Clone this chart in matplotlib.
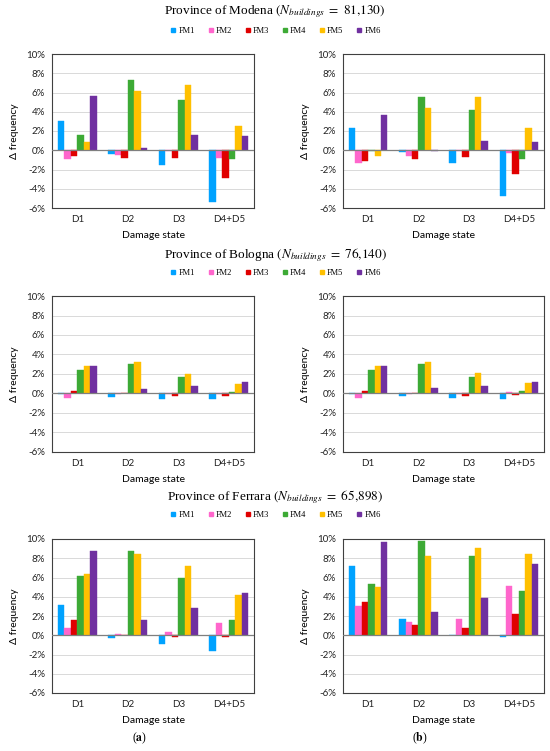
import matplotlib
matplotlib.use("Agg")
import matplotlib.pyplot as plt
import numpy as np
from matplotlib.lines import Line2D

# ---------------- data ----------------
damage_states = ["D1", "D2", "D3", "D4+D5"]
series_names = ["FM1", "FM2", "FM3", "FM4", "FM5", "FM6"]
colors = ["#00A2FF", "#FF66CC", "#E00000", "#3DAA35", "#FFC000", "#7030A0"]
yticks = [-6, -4, -2, 0, 2, 4, 6, 8, 10]

provinces = ["Modena", "Bologna", "Ferrara"]
n_buildings = ["81{,}130", "76{,}140", "65{,}898"]

# values in % ; rows = FM1..FM6, columns = D1, D2, D3, D4+D5
modena_a = [
    [3.0, -0.41, -1.5, -5.4],
    [-0.95, -0.48, -0.03, -0.83],
    [-0.62, -0.8, -0.8, -2.86],
    [1.56, 7.34, 5.19, -0.9],
    [0.83, 6.19, 6.78, 2.56],
    [5.64, 0.28, 1.63, 1.52],
]
modena_b = [
    [2.33, -0.14, -1.3, -4.8],
    [-1.37, -0.56, -0.03, -0.32],
    [-1.12, -0.88, -0.74, -2.5],
    [-0.05, 5.57, 4.15, -0.91],
    [-0.56, 4.42, 5.5, 2.26],
    [3.66, -0.1, 0.98, 0.9],
]
bologna_a = [
    [-0.05, -0.34, -0.55, -0.6],
    [-0.5, -0.02, -0.05, -0.03],
    [0.27, 0.02, -0.27, -0.27],
    [2.46, 3.0, 1.7, 0.17],
    [2.8, 3.28, 2.05, 0.96],
    [2.83, 0.48, 0.82, 1.13],
]
bologna_b = [
    [-0.03, -0.27, -0.51, -0.58],
    [-0.48, -0.02, -0.05, 0.14],
    [0.24, 0.02, -0.27, -0.2],
    [2.46, 3.04, 1.71, 0.3],
    [2.83, 3.28, 2.08, 1.06],
    [2.87, 0.55, 0.82, 1.23],
]
ferrara_a = [
    [3.18, -0.31, -0.93, -1.66],
    [0.8, 0.17, 0.38, 1.28],
    [1.63, 0.02, -0.2, -0.2],
    [6.19, 8.79, 5.99, 1.63],
    [6.4, 8.44, 7.2, 4.22],
    [8.79, 1.63, 2.87, 4.36],
]
ferrara_b = [
    [7.16, 1.66, 0.02, -0.14],
    [3.08, 1.35, 1.66, 5.12],
    [3.43, 1.04, 0.73, 2.25],
    [5.36, 9.76, 8.2, 4.57],
    [5.05, 8.27, 9.07, 8.44],
    [9.65, 2.39, 3.84, 7.37],
]
panels = [(modena_a, modena_b), (bologna_a, bologna_b), (ferrara_a, ferrara_b)]

# ---------------- figure ----------------
W, H = 550, 751
fig = plt.figure(figsize=(W / 100, H / 100), dpi=100)
plt.rcParams["mathtext.fontset"] = "stix"

sans = ["Lato", "DejaVu Sans"]
serif = ["Liberation Serif", "DejaVu Serif"]


def rect(x0, y0, x1, y1):
    return [x0 / W, 1 - y1 / H, (x1 - x0) / W, (y1 - y0) / H]


row_y = [(54, 208), (296, 452), (539, 693)]
col_x = [(52, 254), (343, 544)]
title_y = [12, 255, 497]
legend_y = [31, 273, 515]

x = np.arange(len(damage_states))
bw = 0.128

for r in range(3):
    y0, y1 = row_y[r]
    for c in range(2):
        x0, x1 = col_x[c]
        ax = fig.add_axes(rect(x0, y0, x1, y1))
        data = panels[r][c]
        for i, (name, col) in enumerate(zip(series_names, colors)):
            ax.bar(x + (i - 2.5) * bw, data[i], width=bw, color=col,
                   edgecolor=col, linewidth=0.3, zorder=3)
        ax.set_xlim(-0.5, len(damage_states) - 0.5)
        ax.set_ylim(-6, 10)
        ax.set_yticks(yticks)
        ax.set_yticklabels([f"{v}%" for v in yticks], fontsize=7,
                           family=sans, color="#222222")
        ax.set_xticks(x)
        ax.set_xticklabels(damage_states, fontsize=7, family=sans,
                           color="#222222")
        ax.tick_params(length=0, pad=5)
        ax.grid(axis="y", color="#D9D9D9", linewidth=0.7, zorder=0)
        ax.axhline(0, color="#7F7F7F", linewidth=0.9, zorder=4)
        for s in ax.spines.values():
            s.set_color("#404040")
            s.set_linewidth(0.8)
        ax.set_ylabel("Δ frequency", fontsize=7.5, family=sans, labelpad=5)
        ax.set_xlabel("Damage state", fontsize=7.5, family=sans, labelpad=5)

    fig.text(0.5, 1 - title_y[r] / H,
             f"Province of {provinces[r]} $(N_{{buildings}}\\ =\\ {n_buildings[r]})$",
             ha="center", va="center", fontsize=9.5, family=serif)
    handles = [Line2D([], [], marker="s", linestyle="none", color=col,
                      markersize=3.5) for col in colors]
    fig.legend(handles, series_names, loc="center",
               bbox_to_anchor=(0.5, 1 - legend_y[r] / H), ncol=6,
               frameon=False, prop={"family": serif, "size": 6},
               handletextpad=0.1, columnspacing=1.4, handlelength=1.0)

fig.text(140 / W, 1 - 738 / H, r"($\mathbf{a}$)", ha="center", va="center",
         fontsize=8.5, family=serif)
fig.text(420 / W, 1 - 738 / H, r"($\mathbf{b}$)", ha="center", va="center",
         fontsize=8.5, family=serif)

fig.savefig("out.png", dpi=100)
